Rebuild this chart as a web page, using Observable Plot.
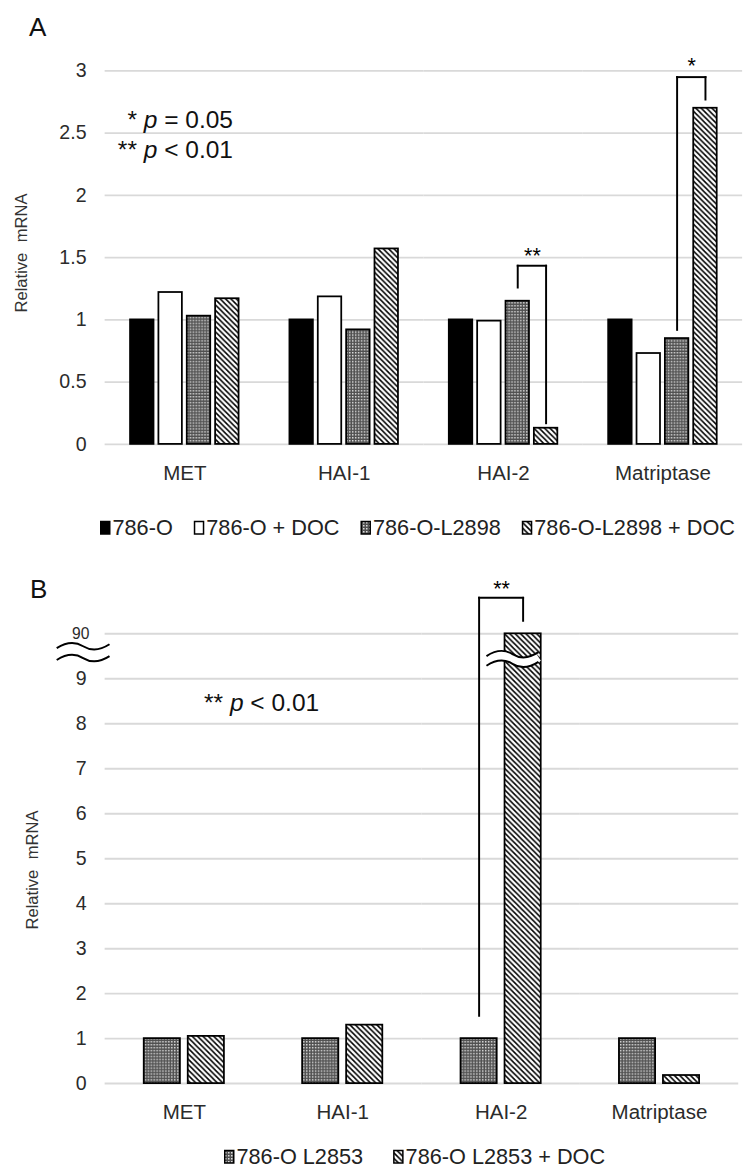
<!DOCTYPE html>
<html><head><meta charset="utf-8">
<script src="https://cdn.jsdelivr.net/npm/d3@7"></script>
<script src="https://cdn.jsdelivr.net/npm/@observablehq/plot@0.6"></script>
<style>
html,body{margin:0;padding:0;background:#fff;}
body{width:748px;height:1169px;overflow:hidden;position:relative;font-family:"Liberation Sans",Arial,sans-serif;}
#chartA,#chartB,#overlay{position:absolute;left:0;}
#chartA{top:0}
#chartB{top:560px}
#overlay{top:0;pointer-events:none}
</style></head><body>
<svg width="0" height="0" style="position:absolute">
 <defs>
  <pattern id="dots" width="3" height="3" patternUnits="userSpaceOnUse">
    <rect width="3" height="3" fill="#505050"/>
    <rect x="0" y="0" width="1.5" height="1.5" fill="#dcdcdc"/>
  </pattern>
  <pattern id="hatch" width="5.5" height="5.5" patternUnits="userSpaceOnUse">
    <rect width="5.5" height="5.5" fill="#fff"/>
    <path d="M-2.75,2.75 L2.75,8.25 M0,0 L5.5,5.5 M2.75,-2.75 L8.25,2.75" stroke="#000" stroke-width="1.6"/>
  </pattern>
 </defs>
</svg>
<div id="chartA"></div>
<div id="chartB"></div>
<svg id="overlay" width="748" height="1169"></svg>
<script>
// ---------- data ----------
const genes = ["MET", "HAI-1", "HAI-2", "Matriptase"];

const seriesA = ["786-O", "786-O + DOC", "786-O-L2898", "786-O-L2898 + DOC"];
const a786O     = [1.00, 1.00, 1.00, 1.00];
const a786ODoc  = [1.22, 1.185, 0.99, 0.73];
const aL2898    = [1.03, 0.92, 1.15, 0.85];
const aL2898Doc = [1.17, 1.57, 0.13, 2.70];
const yTicksA   = [0, 0.5, 1, 1.5, 2, 2.5, 3];

const seriesB   = ["786-O L2853", "786-O L2853 + DOC"];
const bL2853    = [1.00, 1.00, 1.00, 1.00];
const bL2853Doc = [1.05, 1.30, 90, 0.18];
const yTicksB   = [0, 1, 2, 3, 4, 5, 6, 7, 8, 9];
const breakLabelB = "90";   // value shown above the axis break
const breakPosB = 10;       // axis position of the broken top

const sigA = [
  {gene: "HAI-2", from: "786-O-L2898", to: "786-O-L2898 + DOC", fromY: 1.26, top: 1.435, toY: 0.17, mark: "**", markY: 1.51},
  {gene: "Matriptase", from: "786-O-L2898", to: "786-O-L2898 + DOC", fromY: 0.92, top: 2.95, toY: 2.77, mark: "*", markY: 3.04}
];
const sigB = [
  {gene: "HAI-2", from: "786-O L2853", to: "786-O L2853 + DOC", fromY: 1.51, top: 10.8, toY: 10.29, mark: "**", markY: 11.0}
];

// ---------- styles ----------
const fills = {
  "786-O": "#000", "786-O + DOC": "#fff",
  "786-O-L2898": "url(#dots)", "786-O-L2898 + DOC": "url(#hatch)",
  "786-O L2853": "url(#dots)", "786-O L2853 + DOC": "url(#hatch)"
};
const font = "'Liberation Sans', Arial, sans-serif";
const ink = "#2b2b2b";

const rowsA = genes.flatMap((g, i) =>
  [a786O, a786ODoc, aL2898, aL2898Doc].map((arr, j) => ({gene: g, series: seriesA[j], value: arr[i]})));
const rowsB = genes.flatMap((g, i) =>
  [bL2853, bL2853Doc].map((arr, j) => ({gene: g, series: seriesB[j], value: arr[i] > breakPosB ? breakPosB : arr[i]})));

const segs = sig => sig.flatMap(s => [
  {gene: s.gene, x1: s.from, x2: s.from, y1: s.fromY, y2: s.top},
  {gene: s.gene, x1: s.from, x2: s.to,   y1: s.top,   y2: s.top},
  {gene: s.gene, x1: s.to,   x2: s.to,   y1: s.top,   y2: s.toY}
]);

// ---------- panel A ----------
const plotA = Plot.plot({
  width: 765, height: 500,
  marginLeft: 105, marginRight: 5, marginTop: 72, marginBottom: 46,
  style: {fontFamily: font, color: ink, background: "transparent", overflow: "visible"},
  fx: {domain: genes, padding: 0, label: null},
  x: {domain: seriesA, paddingInner: 0.167, paddingOuter: 0.81, axis: null},
  y: {domain: [0, 3], label: null},
  color: {type: "identity"},
  marks: [
    Plot.gridY(yTicksA, {stroke: "#d9d9d9", strokeOpacity: 1, strokeWidth: 2}),
    Plot.axisY(yTicksA, {tickSize: 0, tickPadding: 19, fontSize: 20, label: null, tickFormat: d => String(d)}),
    Plot.axisFx({anchor: "bottom", tickSize: 0, tickPadding: 21, fontSize: 21, label: null}),
    Plot.barY(rowsA, {fx: "gene", x: "series", y: "value", fill: d => fills[d.series], stroke: "#000", strokeWidth: 1.8}),
    Plot.link(segs(sigA), {fx: "gene", x1: "x1", x2: "x2", y1: "y1", y2: "y2", stroke: "#000", strokeWidth: 2, strokeLinecap: "square"}),
    Plot.text(sigA, {fx: "gene", x: "from", y: "markY", text: "mark", dx: 15, fontSize: 22, fill: "#000"})
  ]
});
document.getElementById("chartA").append(plotA);

// ---------- panel B ----------
const plotB = Plot.plot({
  width: 765, height: 580,
  marginLeft: 106, marginRight: 9, marginTop: 75, marginBottom: 45,
  style: {fontFamily: font, color: ink, background: "transparent", overflow: "visible"},
  fx: {domain: genes, padding: 0, label: null},
  x: {domain: seriesB, paddingInner: 0.174, paddingOuter: 0.853, axis: null},
  y: {domain: [0, breakPosB], label: null},
  color: {type: "identity"},
  marks: [
    Plot.gridY([...yTicksB, breakPosB], {stroke: "#d9d9d9", strokeOpacity: 1, strokeWidth: 2}),
    Plot.axisY(yTicksB, {tickSize: 0, tickPadding: 19, fontSize: 20, label: null, tickFormat: d => String(d)}),
    Plot.axisY([breakPosB], {tickSize: 0, tickPadding: 16, fontSize: 16, label: null, tickFormat: () => breakLabelB}),
    Plot.axisFx({anchor: "bottom", tickSize: 0, tickPadding: 21, fontSize: 21, label: null}),
    Plot.barY(rowsB, {fx: "gene", x: "series", y: "value", fill: d => fills[d.series], stroke: "#000", strokeWidth: 1.8}),
    Plot.link(segs(sigB), {fx: "gene", x1: "x1", x2: "x2", y1: "y1", y2: "y2", stroke: "#000", strokeWidth: 2, strokeLinecap: "square"}),
    Plot.text(sigB, {fx: "gene", x: "from", y: "markY", text: "mark", dx: 23, fontSize: 22, fill: "#000"})
  ]
});
document.getElementById("chartB").append(plotB);

// ---------- axis break symbols (B) ----------
function wave(x0, x1, yc) {
  const w = x1 - x0;
  return `M${x0},${yc + 2} C${x0 + w * 0.2},${yc - 5} ${x0 + w * 0.35},${yc - 5} ${x0 + w * 0.5},${yc} S${x0 + w * 0.8},${yc + 5} ${x1},${yc - 2}`;
}
(function () {
  const svgBox = plotB.getBoundingClientRect();
  const rects = Array.from(plotB.querySelectorAll('g[aria-label="bar"] rect'));
  // the bar clamped at the broken top is the tallest one
  const tall = rects.reduce((a, b) => b.getBoundingClientRect().height > a.getBoundingClientRect().height ? b : a);
  const r = tall.getBoundingClientRect();
  const bx = r.left - svgBox.left, bw = r.width;
  const yTop = r.top - svgBox.top, yBase = r.bottom - svgBox.top;
  const yv = v => yBase - (yBase - yTop) * v / breakPosB;
  const g = d3.select(plotB).append("g");
  const yt = yv(9.49), yb = yv(9.27);
  g.append("path").attr("d", wave(bx - 7, bx + bw + 10, (yt + yb) / 2))
    .attr("fill", "none").attr("stroke", "#fff").attr("stroke-width", Math.abs(yb - yt) - 1);
  for (const yy of [yt, yb])
    g.append("path").attr("d", wave(bx - 7, bx + bw + 10, yy)).attr("fill", "none").attr("stroke", "#000").attr("stroke-width", 2);
  // axis break
  const ax = plotB.scale("fx").range[0];
  for (const v of [9.67, 9.4])
    g.append("path").attr("d", wave(ax - 48, ax + 6, yv(v))).attr("fill", "none").attr("stroke", "#000").attr("stroke-width", 2);
})();

// ---------- overlay texts ----------
const ov = d3.select("#overlay").style("font-family", font);
ov.append("text").attr("x", 29).attr("y", 36).attr("font-size", 26).attr("fill", "#111").text("A");
ov.append("text").attr("x", 30).attr("y", 598).attr("font-size", 26).attr("fill", "#111").text("B");

function pText(x, y, anchor, stars, rel, val) {
  const t = ov.append("text").attr("x", x).attr("y", y).attr("text-anchor", anchor)
    .attr("font-size", 24.5).attr("fill", "#111").attr("xml:space", "preserve");
  t.append("tspan").text(stars + " ");
  t.append("tspan").attr("font-style", "italic").text("p");
  t.append("tspan").text(" " + rel + " " + val);
}
pText(233, 128, "end", "*", "=", "0.05");
pText(233, 158, "end", "**", "<", "0.01");
pText(204, 711, "start", "**", "<", "0.01");

function yLabel(cx, cy) {
  ov.append("text").attr("transform", `translate(${cx},${cy}) rotate(-90)`)
    .attr("text-anchor", "middle").attr("font-size", 16.5).attr("word-spacing", 6).attr("fill", "#333")
    .text("Relative mRNA");
}
yLabel(27, 253);
yLabel(38, 870);

function legend(series, x0, baseline, gap) {
  let x = x0;
  for (const s of series) {
    ov.append("rect").attr("x", x + 0.75).attr("y", baseline - 13.5).attr("width", 9).attr("height", 12.5)
      .attr("fill", fills[s]).attr("stroke", "#000").attr("stroke-width", 1.5);
    x += 12.5;
    const t = ov.append("text").attr("x", x).attr("y", baseline).attr("font-size", 21.7).attr("fill", "#222").text(s);
    x += t.node().getComputedTextLength() + gap;
  }
}
legend(seriesA, 100, 535, 21);
legend(seriesB, 224, 1164, 30);
</script>
</body></html>
